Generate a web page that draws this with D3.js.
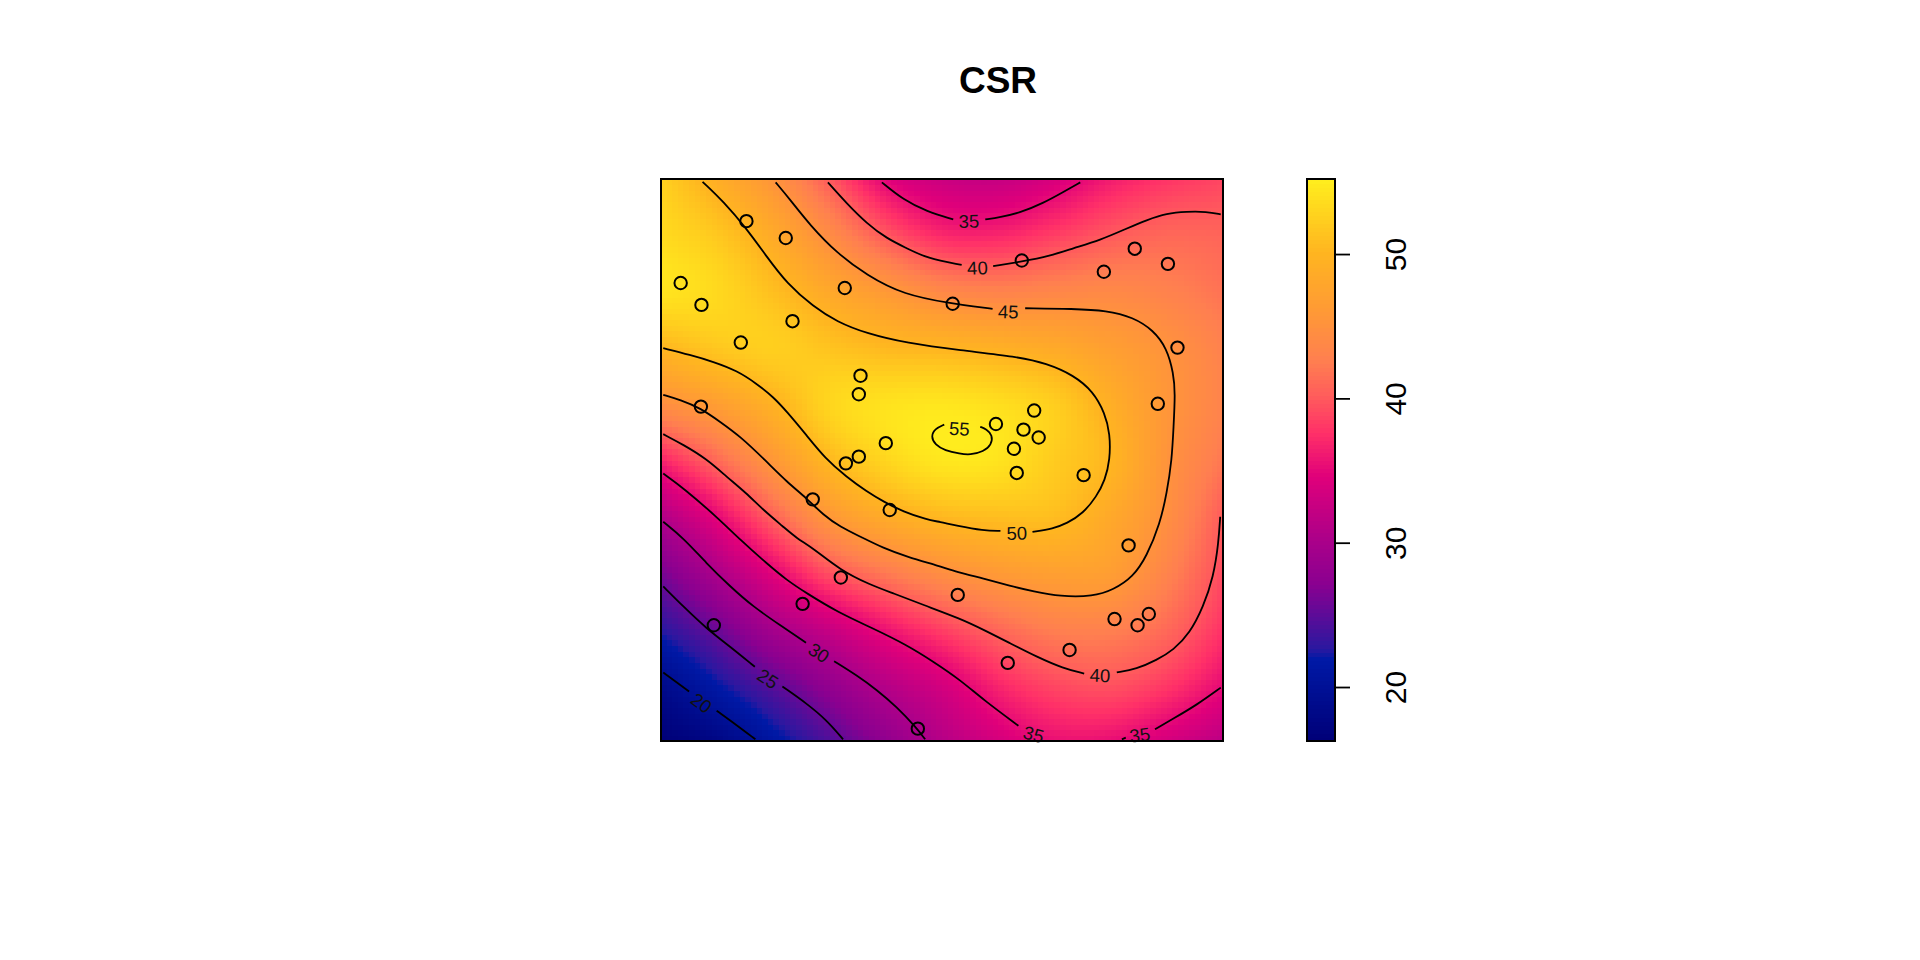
<!DOCTYPE html>
<html>
<head>
<meta charset="utf-8">
<title>CSR</title>
<script src="https://cdn.jsdelivr.net/npm/d3@7"></script>
<style>
    body { margin: 0; background: #fff; }
    text { font-family: "Liberation Sans", Arial, sans-serif; }
</style>
</head>
<body>
<div id="viz"></div>
<script>
'use strict';

const width = 1920;
const height = 960;

// surface, one row per y, columns x = 0, 10, ... 100
const gridSteps = [0, 10, 20, 30, 40, 50, 60, 70, 80, 90, 100];
const row100 = [52.5, 48.9, 45.2, 39.9, 34.7, 32.7, 32.3, 33.8, 36.2, 37.7, 38.7];
const row90 = [53.4, 51.7, 48.4, 44.2, 39.9, 37.1, 36.9, 38.3, 39.9, 40.8, 40.6];
const row80 = [54.2, 53.2, 50.9, 48.1, 45.9, 43.7, 43.0, 43.4, 43.7, 42.9, 41.6];
const row70 = [50.0, 51.6, 52.3, 51.3, 50.3, 49.9, 49.2, 48.3, 46.7, 45.0, 42.8];
const row60 = [44.4, 46.6, 49.5, 52.9, 54.0, 54.3, 53.7, 52.2, 49.0, 45.5, 43.0];
const row50 = [36.7, 40.9, 45.6, 50.2, 52.9, 54.4, 54.1, 52.0, 49.9, 45.2, 41.9];
const row40 = [30.6, 35.0, 40.4, 45.6, 48.5, 50.2, 50.8, 50.7, 48.2, 44.6, 40.0];
const row30 = [26.1, 30.2, 34.7, 39.3, 42.1, 44.4, 46.0, 46.8, 46.5, 43.1, 39.0];
const row20 = [22.5, 25.6, 29.6, 32.5, 35.7, 38.4, 40.8, 42.6, 42.7, 40.9, 37.6];
const row10 = [18.6, 21.7, 24.7, 27.9, 31.0, 33.5, 36.8, 38.8, 39.4, 37.9, 35.2];
const row0 = [16.3, 17.8, 21.0, 24.2, 27.6, 30.9, 33.5, 35.4, 35.3, 33.5, 31.5];

// sample sites
const siteX = [15.2, 22.2, 3.5, 7.2, 32.7, 23.4, 14.2, 35.5, 35.2, 7.1, 40.0, 35.2, 32.9,
    64.2, 51.9, 78.8, 84.3, 90.2, 91.9, 88.4, 66.4, 59.6, 64.5, 67.2, 62.8,
    63.3, 75.2, 83.2, 52.8, 61.7, 72.7, 80.7, 84.8, 86.8,
    27.0, 40.7, 32.0, 25.2, 9.4, 45.7];
const siteY = [92.5, 89.5, 81.5, 77.6, 80.6, 74.7, 70.9, 65.0, 61.7, 59.5, 53.0, 50.6, 49.4,
    85.5, 77.8, 83.5, 87.6, 84.9, 70.0, 60.0, 58.8, 56.4, 55.4, 54.0, 52.0,
    47.7, 47.3, 34.8, 26.0, 13.9, 16.2, 21.7, 20.6, 22.6,
    43.0, 41.1, 29.1, 24.4, 20.6, 2.2];

// contour lines, broken where a label sits
const level55a = [[50.4, 56.3], [48.8, 55.6], [48.0, 54.2], [48.8, 52.7], [50.5, 51.7], [53.2, 51.1], [55.0, 50.9],
    [57.4, 51.5], [58.8, 52.7], [59.0, 54.4], [57.9, 55.5], [56.8, 55.9]];
const level50a = [[7.4, 99.5], [11.1, 96.0], [15.2, 91.2], [18.8, 86.2], [22.4, 81.4], [27.1, 77.3], [31.3, 74.6],
    [36.6, 72.5], [43.7, 70.8], [53.2, 69.5], [63.3, 68.4], [68.6, 67.2], [73.4, 65.1], [76.9, 62.2], [79.0, 58.3],
    [79.9, 54.7], [79.9, 50.0], [79.0, 46.4], [77.5, 43.5], [75.1, 40.5], [72.2, 38.7], [69.8, 37.8], [66.1, 37.2]];
const level50b = [[60.4, 37.4], [57.4, 37.4], [52.6, 38.3], [49.6, 39.0], [47.3, 39.4], [43.1, 40.8], [39.6, 42.6],
    [36.6, 44.4], [33.0, 47.0], [29.2, 50.3], [25.9, 54.4], [22.4, 58.6], [20.0, 61.2], [17.0, 63.6], [13.5, 65.9],
    [9.3, 67.5], [5.2, 68.7], [0.4, 69.9]];
const level45a = [[20.4, 99.4], [23.0, 96.3], [26.5, 91.8], [31.3, 86.8], [36.6, 82.9], [43.1, 79.4], [52.0, 77.8],
    [55.6, 77.3], [59.0, 76.9]];
const level45b = [[64.8, 77.0], [73.4, 76.9], [79.3, 76.6], [84.0, 75.4], [87.6, 73.1], [90.0, 69.9], [91.2, 65.4],
    [91.5, 61.9], [91.2, 55.9], [90.9, 50.0], [90.0, 44.1], [88.8, 38.7], [86.4, 32.8], [84.0, 29.2], [80.5, 26.9],
    [76.9, 25.7], [71.0, 25.7], [66.3, 26.6], [62.1, 27.6], [57.4, 28.9], [52.6, 30.1], [49.6, 31.1], [43.7, 32.8],
    [39.6, 34.3], [35.4, 36.4], [31.9, 38.1], [28.9, 40.2], [25.9, 43.2], [22.4, 46.1], [18.5, 50.0], [14.1, 54.2],
    [10.5, 56.8], [7.1, 59.2], [3.4, 60.7], [0.4, 61.6]];
const level40a = [[29.7, 99.4], [33.0, 95.7], [36.6, 92.1], [40.2, 89.4], [43.7, 87.7], [47.3, 85.9], [53.5, 84.7]];
const level40b = [[59.1, 84.5], [64.2, 85.3], [69.2, 86.3], [73.4, 87.7], [78.1, 89.1], [82.9, 91.2], [86.4, 92.7],
    [90.0, 93.9], [93.5, 94.2], [97.1, 94.2], [99.6, 93.7]];
const level40c = [[0.4, 54.6], [4.0, 52.7], [8.1, 50.2], [11.7, 47.0], [15.2, 44.1], [18.2, 41.1], [21.8, 38.1],
    [24.1, 36.1], [27.1, 34.3], [31.9, 30.4], [37.2, 27.8], [41.3, 26.3], [46.7, 24.2], [53.2, 21.8], [57.4, 19.8],
    [62.1, 17.4], [66.8, 15.0], [71.6, 12.9], [75.3, 12.0]];
const level40d = [[81.1, 12.2], [84.6, 12.8], [88.2, 14.4], [91.2, 16.2], [94.1, 19.2], [96.5, 23.9], [98.3, 29.2],
    [99.2, 35.2], [99.5, 39.9]];
const level35a = [[39.3, 99.4], [43.1, 96.3], [47.3, 94.2], [52.0, 92.8]];
const level35b = [[57.7, 92.8], [60.3, 93.2], [63.9, 94.0], [68.0, 95.7], [71.6, 97.7], [74.6, 99.4]];
const level35c = [[0.4, 47.6], [4.0, 45.0], [9.9, 39.9], [14.1, 35.8], [18.8, 31.6], [22.4, 28.6], [25.9, 26.3],
    [31.3, 23.0], [37.8, 20.0], [43.7, 17.1], [48.5, 14.1], [53.2, 10.9], [57.4, 7.3], [63.6, 2.7]];
const level35d = [[99.6, 9.5], [95.3, 6.4], [91.2, 4.0], [87.9, 2.1]];
const level35e = [[82.0, 0.3], [82.7, 0.6]];
const level30a = [[0.4, 39.0], [4.0, 36.1], [8.1, 31.6], [12.3, 27.5], [16.4, 23.9], [21.2, 20.6], [25.8, 17.5]];
const level30b = [[30.8, 14.2], [34.8, 11.7], [38.4, 9.1], [41.9, 6.1], [45.5, 2.3], [47.0, 0.3]];
const level25a = [[0.4, 27.5], [4.0, 23.9], [8.1, 20.0], [12.3, 16.8], [16.7, 13.2]];
const level25b = [[21.6, 9.7], [25.9, 6.7], [29.5, 3.7], [32.4, 0.3]];
const level20a = [[0.4, 12.2], [5.0, 8.8]];
const level20b = [[9.9, 5.4], [13.5, 2.8], [16.8, 0.3]];

const contourLines = [level55a, level50a, level50b, level45a, level45b, level40a, level40b, level40c, level40d,
    level35a, level35b, level35c, level35d, level35e, level30a, level30b, level25a, level25b, level20a, level20b];

// contour labels
const labelText = ["55", "50", "45", "40", "40", "35", "35", "35", "30", "25", "20"];
const labelX = [53.1, 63.3, 61.8, 56.3, 78.1, 54.8, 66.3, 85.2, 28.1, 19.0, 7.2];
const labelY = [55.6, 37.0, 76.4, 84.2, 11.7, 92.5, 1.2, 1.1, 15.7, 11.1, 6.8];
const labelAngle = [3, -2, 2, -2, 2, -1, 15, -8, 33, 33, 36];

// colour key
const keyMin = 16.26;
const keyMax = 55.2;
const keyTicks = [20, 30, 40, 50];
const rampValues = [16.26, 21.8, 22.5, 27, 30, 34.5, 37.5, 40, 42.5, 46, 50, 53, 55.2];
const rampColors = ["#000078", "#0019a6", "#2a18a0", "#8a0090", "#aa008a", "#e0007a", "#ff3068",
    "#ff5c5c", "#ff7f50", "#ff9a35", "#ffb520", "#ffd61e", "#fff01e"];

const rows = [row0, row10, row20, row30, row40, row50, row60, row70, row80, row90, row100];

const color = d3.scaleLinear()
    .domain(rampValues)
    .range(rampColors)
    .clamp(true);

const x = d3.scaleLinear().domain([0, 100]).range([661, 1223]);
const y = d3.scaleLinear().domain([0, 100]).range([741, 179]);
const keyY = d3.scaleLinear().domain([keyMin, keyMax]).range([741, 179]);

const svg = d3.select("#viz")
    .append("svg")
    .attr("width", width)
    .attr("height", height)
    .style("display", "block");

// Catmull-Rom between four neighbours
function cubic(a, b, c, d, t) {
    return b + 0.5 * t * (c - a + t * (2 * a - 5 * b + 4 * c - d + t * (3 * (b - c) + d - a)));
}

function at(list, i) {
    let n = list.length - 1;
    if (i < 0) return 2 * list[0] - list[1];
    if (i > n) return 2 * list[n] - list[n - 1];
    return list[i];
}

function surface(u, v) {
    let step = gridSteps[1] - gridSteps[0];
    let i = Math.min(Math.floor(u / step), gridSteps.length - 2);
    let j = Math.min(Math.floor(v / step), gridSteps.length - 2);
    let s = u / step - i;
    let t = v / step - j;
    let col = [];
    for (let k = -1; k <= 2; k++) {
        let r;
        if (j + k < 0) {
            r = rows[0].map((d, m) => 2 * d - rows[1][m]);
        } else if (j + k >= rows.length) {
            r = rows[rows.length - 1].map((d, m) => 2 * d - rows[rows.length - 2][m]);
        } else {
            r = rows[j + k];
        }
        col.push(cubic(at(r, i - 1), at(r, i), at(r, i + 1), at(r, i + 2), s));
    }
    return cubic(col[0], col[1], col[2], col[3], t);
}

// the image is a 100 by 100 raster
const cells = [];
d3.range(100).forEach((i) => {
    d3.range(100).forEach((j) => {
        cells.push({u: i, v: j, z: surface(i + 0.5, j + 0.5)});
    });
});

svg.append("g")
    .attr("shape-rendering", "crispEdges")
    .selectAll("rect")
    .data(cells)
    .enter()
    .append("rect")
    .attr("x", (d) => x(d.u))
    .attr("y", (d) => y(d.v + 1))
    .attr("width", x(1) - x(0) + 0.6)
    .attr("height", y(0) - y(1) + 0.6)
    .attr("fill", (d) => color(d.z));

const contourPath = d3.line()
    .x((d) => x(d[0]))
    .y((d) => y(d[1]))
    .curve(d3.curveBasis);

svg.append("g")
    .selectAll("path")
    .data(contourLines)
    .enter()
    .append("path")
    .attr("fill", "none")
    .attr("stroke", "#000")
    .attr("stroke-width", 1.8)
    .attr("d", contourPath);

svg.append("g")
    .selectAll("text")
    .data(labelText)
    .enter()
    .append("text")
    .attr("transform", (d, i) => `translate(${x(labelX[i])},${y(labelY[i])}) rotate(${labelAngle[i]})`)
    .attr("text-anchor", "middle")
    .attr("dy", "0.36em")
    .attr("font-size", 18.5)
    .attr("fill", "#111")
    .text((d) => d);

svg.append("g")
    .selectAll("circle")
    .data(siteX)
    .enter()
    .append("circle")
    .attr("cx", (d) => x(d))
    .attr("cy", (d, i) => y(siteY[i]))
    .attr("r", 6.2)
    .attr("fill", "none")
    .attr("stroke", "#000")
    .attr("stroke-width", 2);

svg.append("rect")
    .attr("x", x(0))
    .attr("y", y(100))
    .attr("width", x(100) - x(0))
    .attr("height", y(0) - y(100))
    .attr("fill", "none")
    .attr("stroke", "#000")
    .attr("stroke-width", 2);

// colour key
const keySteps = d3.range(0, 140).map((i) => keyMin + (keyMax - keyMin) * i / 140);
const keyStep = (keyMax - keyMin) / 140;

svg.append("g")
    .attr("shape-rendering", "crispEdges")
    .selectAll("rect")
    .data(keySteps)
    .enter()
    .append("rect")
    .attr("x", 1307)
    .attr("y", (d) => keyY(d + keyStep))
    .attr("width", 28)
    .attr("height", keyY(keyMin) - keyY(keyMin + keyStep) + 0.6)
    .attr("fill", (d) => color(d));

svg.append("rect")
    .attr("x", 1307)
    .attr("y", keyY(keyMax))
    .attr("width", 28)
    .attr("height", keyY(keyMin) - keyY(keyMax))
    .attr("fill", "none")
    .attr("stroke", "#000")
    .attr("stroke-width", 2);

const keyAxis = svg.append("g")
    .attr("transform", "translate(1335,0)")
    .call(d3.axisRight(keyY).tickValues(keyTicks).tickSize(15).tickSizeOuter(0));

keyAxis.select(".domain").remove();
keyAxis.selectAll("line")
    .attr("stroke", "#000")
    .attr("stroke-width", 1.8);
keyAxis.selectAll("text")
    .attr("x", 0)
    .attr("dy", 0)
    .attr("transform", "translate(71,0) rotate(-90)")
    .attr("text-anchor", "middle")
    .attr("font-family", '"Liberation Sans", Arial, sans-serif')
    .attr("font-size", 30)
    .attr("fill", "#000");

svg.append("text")
    .attr("x", 998)
    .attr("y", 93)
    .attr("text-anchor", "middle")
    .attr("font-size", 37)
    .attr("font-weight", "bold")
    .attr("fill", "#000")
    .text("CSR");
</script>
</body>
</html>
